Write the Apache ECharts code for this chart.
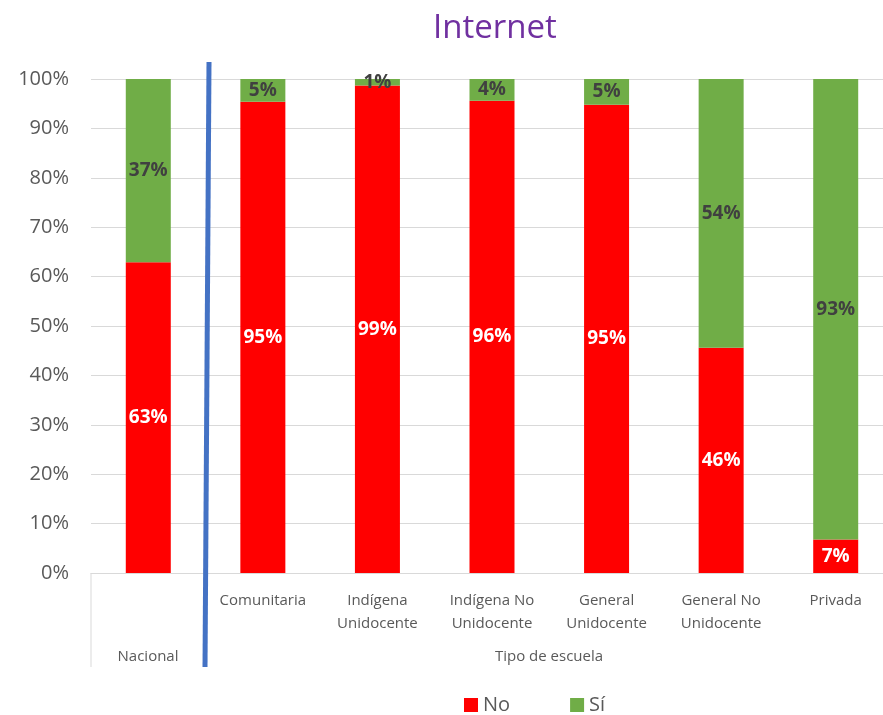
<!DOCTYPE html>
<html>
<head>
<meta charset="utf-8">
<script src="https://cdn.jsdelivr.net/npm/echarts@6/dist/echarts.min.js"></script>
<style>html,body{margin:0;padding:0;background:#fff;overflow:hidden;}#c{width:893px;height:715px;}</style>
</head>
<body>
<div id="c"></div>
<script>
const categories = ['Nacional', 'Comunitaria', 'Indígena\nUnidocente', 'Indígena No\nUnidocente', 'General\nUnidocente', 'General No\nUnidocente', 'Privada'];
const groupLabels = ['Nacional', 'Tipo de escuela'];
const seriesNames = ['No', 'Sí'];
const noValues = [62.9, 95.4, 98.7, 95.6, 94.8, 45.6, 6.8];
const siValues = [37.1, 4.6, 1.3, 4.4, 5.2, 54.4, 93.2];
const yTicks = [0, 10, 20, 30, 40, 50, 60, 70, 80, 90, 100];

const FONT = "'Open Sans', 'Liberation Sans', sans-serif";
const chart = echarts.init(document.getElementById('c'), null, {renderer: 'canvas'});

chart.setOption({
  animation: false,
  backgroundColor: '#ffffff',
  title: {
    text: 'Internet',
    left: 490, top: 7, textAlign: 'center',
    textStyle: {color: '#7030A0', fontSize: 33, fontWeight: 'normal', fontFamily: FONT}
  },
  legend: {
    data: seriesNames,
    top: 695, left: 464,
    itemWidth: 14, itemHeight: 14, itemGap: 60,
    icon: 'rect',
    textStyle: {color: '#595959', fontSize: 20, fontFamily: FONT},
    padding: 0
  },
  grid: {left: 91, top: 79, bottom: 142, right: 0, containLabel: false},
  xAxis: {
    type: 'category',
    data: categories,
    axisLine: {lineStyle: {color: '#d9d9d9', width: 1}},
    axisTick: {show: false},
    axisLabel: {
      interval: 0, color: '#595959', fontSize: 15, fontFamily: FONT, lineHeight: 23, margin: 16,
      formatter: function (v, i) { return i === 0 ? '' : v; }
    }
  },
  yAxis: {
    type: 'value', min: yTicks[0], max: yTicks[yTicks.length - 1], interval: 10,
    axisLine: {show: false}, axisTick: {show: false},
    splitLine: {lineStyle: {color: '#d9d9d9', width: 1}},
    axisLabel: {formatter: '{value}%', color: '#595959', fontSize: 20, fontFamily: FONT, margin: 22}
  },
  series: [
    {
      name: seriesNames[0], type: 'bar', stack: 's', data: noValues, barWidth: 45,
      itemStyle: {color: '#FF0000'},
      label: {show: true, position: 'inside', color: '#ffffff', fontWeight: 'bold', fontSize: 19, fontFamily: FONT,
        formatter: p => Math.round(p.value) + '%'}
    },
    {
      name: seriesNames[1], type: 'bar', stack: 's', data: siValues, barWidth: 45,
      itemStyle: {color: '#70AD47'},
      label: {show: true, position: 'inside', color: '#404040', fontWeight: 'bold', fontSize: 19, fontFamily: FONT,
        formatter: p => Math.round(p.value) + '%'}
    }
  ],
  graphic: [
    {type: 'line', shape: {x1: 91, y1: 573, x2: 91, y2: 667}, style: {stroke: '#d9d9d9', lineWidth: 1}, z: 5},
    {type: 'text', style: {text: groupLabels[0], x: 148, y: 657, align: 'center', verticalAlign: 'middle', fill: '#595959', fontSize: 15, fontFamily: FONT}, z: 5},
    {type: 'text', style: {text: groupLabels[1], x: 549, y: 657, align: 'center', verticalAlign: 'middle', fill: '#595959', fontSize: 15, fontFamily: FONT}, z: 5},
    {type: 'line', shape: {x1: 209, y1: 62, x2: 205, y2: 667}, style: {stroke: '#4472C4', lineWidth: 5}, z: 10}
  ]
});
</script>
</body>
</html>
